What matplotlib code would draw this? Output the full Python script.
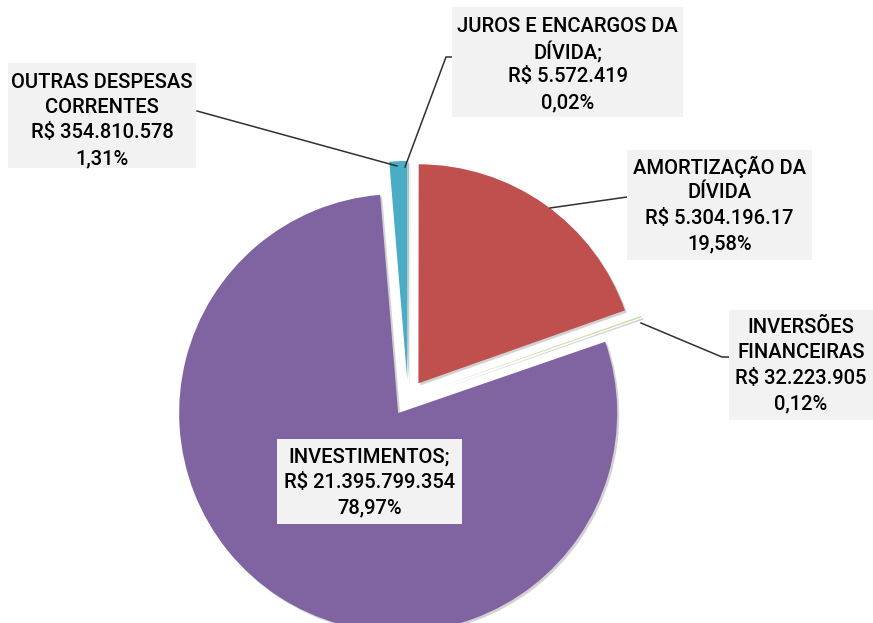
import matplotlib
matplotlib.use('Agg')
from matplotlib import pyplot as plt
from matplotlib.patches import Rectangle
import matplotlib.patheffects as pe

plt.rcParams['font.family'] = ['Roboto', 'DejaVu Sans']

# dados do grafico
categorias = ['JUROS E ENCARGOS DA\nDÍVIDA;', 'AMORTIZAÇÃO DA\nDÍVIDA', 'INVERSÕES\nFINANCEIRAS',
              'INVESTIMENTOS;', 'OUTRAS DESPESAS\nCORRENTES']
valores = ['R$ 5.572.419', 'R$ 5.304.196.17', 'R$ 32.223.905', 'R$ 21.395.799.354', 'R$ 354.810.578']
percentuais = [0.02, 19.58, 0.12, 78.97, 1.31]
cores = ['#4F81BD', '#C0504D', '#9BBB59', '#8064A2', '#4BACC6']

W, H = 873, 623
fig = plt.figure(figsize=(W / 100, H / 100), dpi=100)
ax = fig.add_axes([0, 0, 1, 1])

# pie em coordenadas de pixel (y para cima)
centro = (408, H - 398)
raio = 219
explode = [18, 18, 28, 18, 18]
wedges, _ = ax.pie(percentuais, colors=cores, startangle=90, counterclock=False,
                   center=centro, radius=raio, explode=explode,
                   wedgeprops=dict(linewidth=0))
for w in wedges:
    w.set_path_effects([pe.SimplePatchShadow(offset=(1.5, -1.5), shadow_rgbFace='#808080', alpha=0.35),
                        pe.Normal()])
wedges[2].set_alpha(0.5)

ax.set_xlim(0, W)
ax.set_ylim(0, H)
ax.set_aspect('auto')
ax.axis('off')

# caixas dos rotulos (x0, y0, x1, y1 em pixels)
caixas = [(452, 7, 683, 117), (627, 150, 812, 260), (729, 310, 873, 420),
          (277, 439, 462, 524), (8, 63, 196, 168)]
primeira_linha = [26, 167, 327, 457, 82]
passo = 25.5

# linhas de chamada
linhas = [
    [(452, 57), (446, 57), (405, 167)],
    [(627, 197), (550, 208)],
    [(729, 357), (722, 357), (641, 323)],
    None,
    [(197, 111), (397, 166)],
]
for ln in linhas:
    if ln is None:
        continue
    ax.plot([p[0] for p in ln], [H - p[1] for p in ln], color='#303030', lw=1.1, zorder=3)

for i in range(len(categorias)):
    x0, y0, x1, y1 = caixas[i]
    ax.add_patch(Rectangle((x0, H - y1), x1 - x0, y1 - y0, facecolor='#F2F2F2',
                           edgecolor='none', zorder=4))
    linhas_txt = categorias[i].split('\n') + [valores[i], ('%.2f%%' % percentuais[i]).replace('.', ',')]
    cx = (x0 + x1) / 2
    for k, t in enumerate(linhas_txt):
        ax.text(cx, H - (primeira_linha[i] + k * passo), t, ha='center', va='center',
                fontsize=14.5, fontweight='medium', color='black', zorder=5)

fig.savefig('out.png', dpi=100)
